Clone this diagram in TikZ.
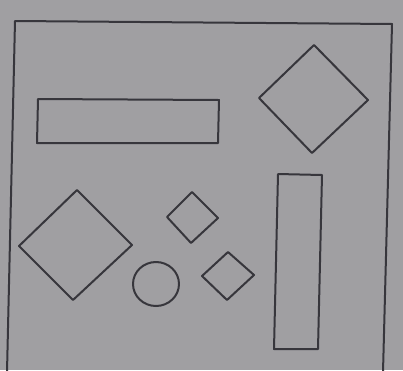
\documentclass[tikz,border=0pt]{standalone}
\definecolor{paper}{RGB}{160,159,162}
\definecolor{ink}{RGB}{55,54,60}
\begin{document}
\begin{tikzpicture}[x=1pt,y=-1pt,
  outline/.style={draw=ink,line width=2pt,line join=round}]
\fill[paper] (0,0) rectangle (403,370);
\useasboundingbox (0,0) rectangle (403,370);
% outer frame (bottom edge beyond view)
\draw[outline] (7,372) -- (15,21) -- (392,24) -- (383,372);
% long horizontal rectangle
\draw[outline] (38,99) -- (219,100) -- (218,143) -- (37,143) -- cycle;
% large diamond top right
\draw[outline] (314,45) -- (368,100) -- (312,153) -- (259,98) -- cycle;
% tall rectangle
\draw[outline] (278,174) -- (322,175) -- (318,349) -- (274,349) -- cycle;
% large diamond left
\draw[outline] (77,190) -- (132,245) -- (73,300) -- (19,246) -- cycle;
% small diamond upper
\draw[outline] (192,192) -- (218,218) -- (191,243) -- (167,217) -- cycle;
% small diamond lower
\draw[outline] (228,252) -- (254,275) -- (227,300) -- (202,276) -- cycle;
% circle
\draw[outline] (156,284) ellipse [x radius=23, y radius=22];
\end{tikzpicture}
\end{document}
